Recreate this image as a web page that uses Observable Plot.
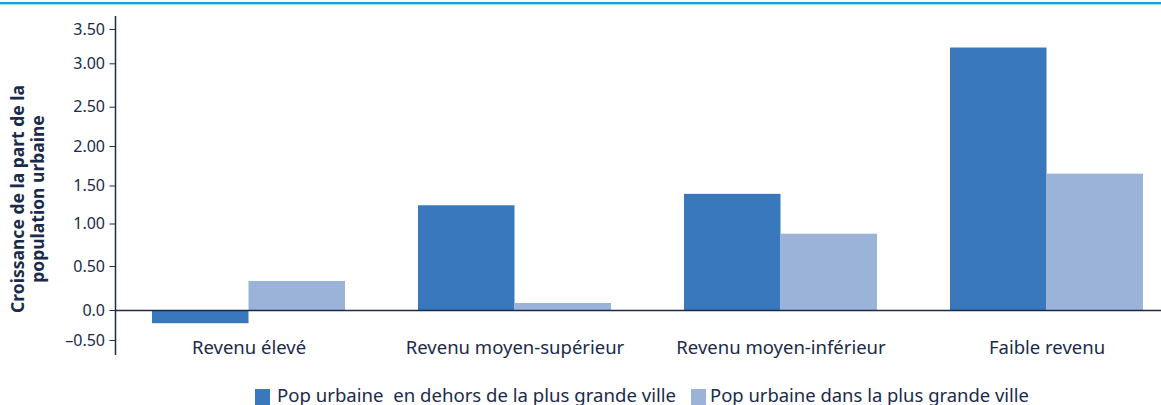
<!DOCTYPE html>
<html>
<head>
<meta charset="utf-8">
<script src="https://cdn.jsdelivr.net/npm/d3@7"></script>
<script src="https://cdn.jsdelivr.net/npm/@observablehq/plot@0.6"></script>
<style>
  html, body { margin: 0; padding: 0; background: #fff; width: 1161px; height: 405px; overflow: hidden; }
  #wrap { position: relative; width: 1161px; height: 405px; font-family: "Noto Sans", sans-serif; color: #1b2a4a; }
  #topline { position: absolute; left: 0; top: 2px; width: 1161px; height: 2px; background: #1f9fd9; border-bottom: 1px solid #a9dcf2; }
  #chart { position: absolute; left: 0; top: 0; }
  #ytitle { position: absolute; left: 27px; top: 199px; transform: translate(-50%, -50%) rotate(-90deg); font-weight: bold; font-size: 17.5px; line-height: 20px; text-align: center; white-space: nowrap; }
  .sw { position: absolute; width: 15px; height: 16px; }
  .lab { position: absolute; font-size: 18px; line-height: 20px; white-space: pre; transform-origin: left center; }
</style>
</head>
<body>
<div id="wrap">
  <div id="topline"></div>
  <div id="chart"></div>
  <div id="ytitle">Croissance de la part de la<br>population urbaine</div>
  <div id="legend"></div>
</div>
<script>
const categories = ["Revenu élevé", "Revenu moyen-supérieur", "Revenu moyen-inférieur", "Faible revenu"];
const seriesNames = ["Pop urbaine  en dehors de la plus grande ville", "Pop urbaine dans la plus grande ville"];
const outsideLargest = [-0.22, 1.24, 1.39, 3.23];
const insideLargest = [0.33, 0.08, 0.88, 1.65];
const yTicks = [-0.5, 0, 0.5, 1, 1.5, 2, 2.5, 3, 3.5];
const colors = ["#3a78bd", "#9bb2d9"];

const ink = "#1b2a4a";
const rowsA = categories.map((c, i) => ({cat: c, v: outsideLargest[i]}));
const rowsB = categories.map((c, i) => ({cat: c, v: insideLargest[i]}));

const fmt = d => d === 0 ? "0.0" : (d < 0 ? "\u2013" + Math.abs(d).toFixed(2) : d.toFixed(2));
const step = 266, bw = 193;

// piecewise y scale reproducing the reference's tick placement
const yDomain = [-0.75, -0.5, 0, 0.5, 1, 1.5, 2, 2.5, 3, 3.5, 3.69];
const yRange = [355, 340, 310, 266, 223.5, 185.5, 146, 106.7, 63.3, 29, 16];

const plot = Plot.plot({
  width: 1161,
  height: 380,
  marginLeft: 115.5,
  marginRight: 0,
  marginTop: 0,
  marginBottom: 41,
  style: {fontFamily: "Noto Sans, sans-serif", fontSize: "16px", color: ink, background: "transparent", overflow: "visible"},
  x: {domain: categories, range: [115.5, 115.5 + 4 * step], paddingInner: (step - bw) / step, paddingOuter: (step - bw) / 2 / step, label: null},
  y: {type: "linear", domain: yDomain, range: yRange, label: null},
  marks: [
    Plot.barY(rowsA, {x: "cat", y: "v", fill: colors[0], insetRight: bw / 2}),
    Plot.barY(rowsB, {x: "cat", y: "v", fill: colors[1], insetLeft: bw / 2}),
    Plot.ruleY([0], {stroke: ink, strokeWidth: 1.5}),
    Plot.axisY({ticks: yTicks, tickFormat: fmt, tickSize: 6, tickPadding: 5, stroke: ink, fill: ink, fontSize: 16, label: null}),
    Plot.axisX({tickSize: 0, tickPadding: 1, fill: ink, fontSize: 18.5, label: null})
  ]
});
document.getElementById("chart").appendChild(plot);

// vertical y-axis line along the full y domain
const ys = plot.scale("y");
const xr = plot.scale("x").range;
d3.select(plot).append("line")
  .attr("x1", xr[0]).attr("x2", xr[0])
  .attr("y1", ys.apply(ys.domain[0])).attr("y2", ys.apply(ys.domain[ys.domain.length - 1]))
  .attr("stroke", ink).attr("stroke-width", 1.5);

// legend
const leg = document.getElementById("legend");
const swLeft = [254.5, 691], labLeft = [277, 709.5], labWidth = [399, 319];
seriesNames.forEach((name, i) => {
  const sw = document.createElement("div");
  sw.className = "sw"; sw.style.background = colors[i];
  sw.style.left = swLeft[i] + "px"; sw.style.top = "389px";
  leg.appendChild(sw);
  const lab = document.createElement("div");
  lab.className = "lab"; lab.textContent = name;
  lab.style.left = labLeft[i] + "px"; lab.style.top = "384.7px";
  leg.appendChild(lab);
  const w = lab.getBoundingClientRect().width;
  lab.style.transform = `scaleX(${labWidth[i] / w})`;
});
</script>
</body>
</html>
